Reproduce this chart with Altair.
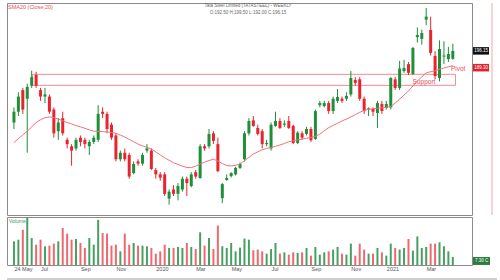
import altair as alt
import pandas as pd

# ---- candle data (weekly, index 0 = 24 May 2019) ----
opens = [163, 168, 178, 174, 180, 185, 178, 175, 175, 169,
         159, 165, 155, 152, 151, 156, 155, 152, 154, 155,
         168, 167, 162, 157, 146, 149, 148, 139.6, 145, 144,
         150, 150, 141, 139, 139, 127.8, 132, 130, 132, 137,
         133.6, 140, 137.3, 152, 152, 158, 153, 128, 136.4, 138.2,
         139, 142, 146, 158, 164, 160.5, 159, 153, 151, 161.4,
         163.7, 162, 163.7, 161.4, 153.5, 158, 157.7, 160, 155.4, 171,
         170.6, 172, 168.3, 173, 174, 174, 176, 182.7, 183, 174,
         169, 169.3, 167.4, 171.6, 169.7, 170, 183, 179, 186.8, 190,
         185.5, 202.5, 201.7, 210.6, 205.8, 193.8, 183.6, 193.5, 192.4, 192.5]
highs = [170, 177, 179, 181, 187, 186.5, 179, 179, 176, 170,
         165, 168, 156, 153, 156, 157, 156, 155, 157, 171,
         170, 168, 163, 158, 150, 151, 149, 145, 146, 149,
         153, 151, 142, 140, 140, 132, 134, 135, 138, 138,
         140, 141, 153, 153, 160, 159, 156, 135, 139, 140,
         142.5, 144.5, 159, 165, 166, 162, 160, 155, 163, 168,
         165, 164, 166, 162, 159, 159, 161, 161, 169, 173,
         173, 173, 175, 178.5, 175, 177, 186.8, 184, 184, 175,
         170, 170, 173, 173, 173, 184, 184, 191.5, 192, 191,
         198, 207, 206, 216, 212, 196, 201, 200.6, 198, 199.5]
lows = [160, 166, 167, 149, 179, 179, 173, 172, 167, 156,
        155, 157, 151, 143, 150, 152, 151, 148, 153, 154,
        165, 158, 155, 145, 145, 145, 137, 139, 143, 143,
        149, 141, 137, 136, 129, 125, 129, 127, 131, 129,
        133, 137, 137, 150, 151, 153, 140, 125.7, 136, 137.5,
        138.5, 141.5, 145, 157, 161, 157, 151, 152, 150, 161,
        160, 161, 160, 153, 153, 155, 157, 154, 155, 170,
        170, 167, 167, 172, 172, 173, 175, 180, 173, 167,
        166, 166, 160.5, 167, 169, 169, 178, 178, 186, 185,
        185, 200, 199, 208, 194, 183, 182, 190, 191, 192]
closes = [168, 175, 169, 179.5, 184, 180, 175, 176, 168, 158,
          163, 158, 153, 150, 155, 154, 153, 154, 156, 167,
          167, 160, 156, 146, 149, 146, 138, 143.8, 144, 148,
          151, 141.5, 139, 137.5, 130, 131, 130, 133.6, 137, 135,
          139, 138, 152, 151, 157.7, 154.5, 140.5, 134.5, 137.3, 139.6,
          142, 143.8, 158, 163.7, 161.4, 157.7, 153, 153.5, 162, 163.7,
          160.5, 162.5, 160.5, 153.5, 158.3, 156, 160, 154.8, 168.3, 172,
          172, 168.3, 174, 174.8, 173, 175.3, 183.6, 181.3, 174, 168.3,
          169.5, 168, 172, 168.3, 171.6, 183.6, 179, 188, 188.2, 186,
          197.5, 203.5, 204.4, 212, 195.2, 184.5, 197, 194, 194.7, 196.15]
sma20 = [153.7, 155.5, 157.3, 159.0, 161.0, 163.0, 164.3, 165.2, 165.6, 165.3,
         164.6, 163.8, 163.0, 162.3, 161.6, 161.0, 160.3, 159.6, 159.0, 158.9,
         158.8, 158.6, 158.4, 158.0, 157.2, 156.3, 155.2, 154.1, 153.0, 152.2,
         151.5, 150.7, 149.4, 148.0, 146.7, 145.5, 144.4, 143.6, 142.8, 142.2,
         142.1, 142.8, 143.8, 144.6, 145.4, 146.0, 145.2, 144.0, 143.1, 142.9,
         143.2, 143.8, 145.3, 146.9, 148.4, 149.4, 150.4, 151.0, 151.5, 152.0,
         152.6, 153.3, 154.1, 154.6, 155.0, 155.3, 155.7, 156.1, 156.6, 157.6,
         159.2, 160.6, 161.7, 162.6, 163.7, 164.6, 165.6, 166.6, 167.7, 168.6,
         169.1, 169.4, 169.6, 169.8, 170.0, 170.4, 172.0, 173.8, 175.7, 177.6,
         179.9, 182.2, 184.1, 186.0, 186.5, 186.9, 187.7, 188.2, 188.8, 189.3]
volumes = [21.5, 23, 32, 45, 24.5, 18.5, 23, 17, 17.6, 19.4,
           21.5, 33.6, 28.5, 23, 23.6, 20, 15.5, 24.5, 18.5, 41,
           29, 28.5, 17.6, 18.5, 12.4, 28.5, 18.5, 20, 17.6, 17.6,
           17, 15.5, 10.3, 12.4, 18.5, 15.5, 15.5, 16.4, 15.5, 20,
           16.4, 14.5, 29.7, 17.6, 24.5, 14.5, 35.8, 17, 15.5, 20,
           12.4, 15.8, 24, 23, 13.4, 14, 12.4, 10.3, 14.5, 20,
           10.3, 11.5, 9.4, 11.5, 10.9, 11.5, 15.5, 8.5, 16.4, 9.4,
           11.5, 12.4, 14, 16.4, 10.3, 9.4, 19.4, 8.5, 19.4, 14,
           10.3, 10.3, 15.5, 11.5, 8.5, 19.4, 15.5, 14, 15.5, 23.6,
           13, 26, 15.5, 16.4, 19.4, 19.4, 20.6, 17, 12.4, 7.3]

tick_index = [0, 6, 15, 23, 32, 41, 49, 58, 67, 76, 84, 93]
tick_labels = ["24 May", "Jul", "Sep", "Nov", "2020", "Mar", "May",
               "Jul", "Sep", "Nov", "2021", "Mar"]
price_ticks = [130, 140, 150, 160, 170, 180, 190, 200, 210]
vol_ticks = [20, 40]

support_index = [4.2, 99.6]
support_price = [180.2, 185.3]
note_texts = ["Support", "Pivot"]
note_index = [92.5, 100.2]
note_price = [181.9, 187.8]

title_lines = ["Tata Steel Limited (TATASTEEL) - WEEKLY",
               "O:192.50 H:199.50 L:192.00 C:196.15"]
legend_text = "SMA20 (Close,20)"

GREEN = "#1f8f3a"
RED = "#e8252f"
VGREEN = "#47a062"
VRED = "#ef6870"
FONT = "Liberation Sans"

df = pd.DataFrame({"i": list(range(len(opens))), "open": opens, "high": highs,
                   "low": lows, "close": closes, "sma": sma20, "vol": volumes})
last = df.tail(1).copy()
last["ctext"] = last["close"].map(lambda v: f"{v:.2f}")
last["stext"] = last["sma"].map(lambda v: f"{v:.2f}")
last["vtext"] = last["vol"].map(lambda v: f"{v:.2f} C")

W = 465
XD = [-0.44, 102.2]
xs = alt.Scale(domain=XD, nice=False, zero=False)
ys = alt.Scale(domain=[120.2, 218.3], nice=False, zero=False)

up = alt.datum.close >= alt.datum.open
ccolor = alt.when(up).then(alt.value(GREEN)).otherwise(alt.value(RED))
vcolor = alt.when(up).then(alt.value(VGREEN)).otherwise(alt.value(VRED))

base = alt.Chart(df)

wicks = base.mark_rule(strokeWidth=1).encode(
    x=alt.X("i:Q", scale=xs, axis=None),
    y=alt.Y("low:Q", scale=ys, title=None,
            axis=alt.Axis(orient="right", values=price_ticks, domain=False, ticks=False,
                          grid=False, labelPadding=4, labelFontSize=5.5,
                          labelColor="#555", labelFont=FONT)),
    y2="high:Q",
    color=ccolor,
)
bodies = base.mark_bar(size=3).encode(
    x=alt.X("i:Q", scale=xs, axis=None),
    y=alt.Y("open:Q", scale=ys, axis=None, title=None),
    y2="close:Q",
    color=ccolor,
)
sma_line = base.mark_line(color="#f0737b", strokeWidth=1).encode(
    x=alt.X("i:Q", scale=xs, axis=None),
    y=alt.Y("sma:Q", scale=ys, axis=None, title=None),
)
sup_df = pd.DataFrame({"x1": [support_index[0]], "x2": [support_index[1]],
                       "y1": [support_price[0]], "y2": [support_price[1]]})
support = alt.Chart(sup_df).mark_rect(fill="transparent", stroke="#f28b93",
                                      strokeWidth=1).encode(
    x=alt.X("x1:Q", scale=xs, axis=None), x2="x2:Q",
    y=alt.Y("y1:Q", scale=ys, axis=None, title=None), y2="y2:Q",
)
notes_df = pd.DataFrame({"t": note_texts, "x": note_index, "y": note_price})
notes = alt.Chart(notes_df).mark_text(color="#e9505a", fontSize=6.5, font=FONT).encode(
    x=alt.X("x:Q", scale=xs, axis=None),
    y=alt.Y("y:Q", scale=ys, axis=None, title=None),
    text="t:N",
)
title1 = alt.Chart(pd.DataFrame({"t": [title_lines[0]]})).mark_text(
    color="#666", fontSize=4.5, font=FONT, baseline="middle").encode(
    x=alt.value(241), y=alt.value(2.8), text="t:N")
title2 = alt.Chart(pd.DataFrame({"t": [title_lines[1]]})).mark_text(
    color="#666", fontSize=4.5, font=FONT, baseline="middle").encode(
    x=alt.value(241), y=alt.value(9.5), text="t:N")
legend = alt.Chart(pd.DataFrame({"t": [legend_text]})).mark_text(
    color="#ef4b55", fontSize=5.5, font=FONT, align="left", baseline="middle").encode(
    x=alt.value(1), y=alt.value(4), text="t:N")

box_path = "M-1,-0.47L1,-0.47L1,0.47L-1,0.47Z"
lastc = alt.Chart(last)
cbox = lastc.mark_point(shape=box_path, size=256, filled=True, opacity=1,
                        color="#111", strokeWidth=0).encode(
    x=alt.value(474), y=alt.Y("close:Q", scale=ys, axis=None, title=None))
ctext = lastc.mark_text(color="white", fontSize=4.5, font=FONT).encode(
    x=alt.value(474), y=alt.Y("close:Q", scale=ys, axis=None, title=None), text="ctext:N")
sbox = lastc.mark_point(shape=box_path, size=256, filled=True, opacity=1,
                        color="#e3202a", strokeWidth=0, yOffset=2).encode(
    x=alt.value(474), y=alt.Y("sma:Q", scale=ys, axis=None, title=None))
stext = lastc.mark_text(color="white", fontSize=4.5, font=FONT, dy=2).encode(
    x=alt.value(474), y=alt.Y("sma:Q", scale=ys, axis=None, title=None), text="stext:N")
pink_edge = alt.Chart(pd.DataFrame({"a": [0]})).mark_rule(
    color="#f4a6ab", strokeWidth=1).encode(
    x=alt.value(485), y=alt.value(0), y2=alt.value(212))

price = alt.layer(support, wicks, bodies, sma_line, notes, title1, title2, legend,
                  cbox, ctext, sbox, stext, pink_edge).properties(width=W, height=212)

# ---- volume panel ----
label_expr = " : ".join(f"datum.value == {k} ? '{lab}'" for k, lab in zip(tick_index, tick_labels)) + " : ''"
vys = alt.Scale(domain=[0, 43.6], nice=False, zero=True)
vbars = base.mark_bar(size=2, clip=True).encode(
    x=alt.X("i:Q", scale=xs, title=None,
            axis=alt.Axis(values=tick_index, labelExpr=label_expr, domain=False,
                          ticks=False, grid=False, labelAlign="left", labelPadding=1,
                          labelFontSize=5.5, labelColor="#555", labelFont=FONT)),
    y=alt.Y("vol:Q", scale=vys, title=None,
            axis=alt.Axis(orient="right", values=vol_ticks, labelExpr="datum.value + ' C'",
                          domain=False, ticks=False, grid=False, labelPadding=4,
                          labelFontSize=5, labelColor="#555", labelFont=FONT)),
    color=vcolor,
)
vlabel = alt.Chart(pd.DataFrame({"t": ["Volume"]})).mark_text(
    color="#3a9a5a", fontSize=5, font=FONT, align="left", baseline="middle").encode(
    x=alt.value(2), y=alt.value(4), text="t:N")
vbox = lastc.mark_point(shape=box_path, size=289, filled=True, opacity=1,
                        color="#2e7d3e", strokeWidth=0, yOffset=4).encode(
    x=alt.value(474.5), y=alt.Y("vol:Q", scale=vys, axis=None, title=None))
vtext = lastc.mark_text(color="white", fontSize=4.5, font=FONT, dy=4).encode(
    x=alt.value(474.5), y=alt.Y("vol:Q", scale=vys, axis=None, title=None), text="vtext:N")
bottom_rule = alt.Chart(pd.DataFrame({"a": [0]})).mark_rule(
    color="#cfcfcf", strokeWidth=2).encode(
    x=alt.value(0), x2=alt.value(490), y=alt.value(62))

volume = alt.layer(vbars, vlabel, vbox, vtext, bottom_rule).properties(width=W, height=48)

chart = alt.vconcat(price, volume, spacing=0).resolve_scale(y="independent").properties(
    padding={"left": 5, "top": 2, "right": 0, "bottom": 0},
    background="white",
).configure_view(stroke="#8a8a8a", strokeWidth=1)

chart.save("out.html", embed_options={"renderer": "svg", "actions": False})
